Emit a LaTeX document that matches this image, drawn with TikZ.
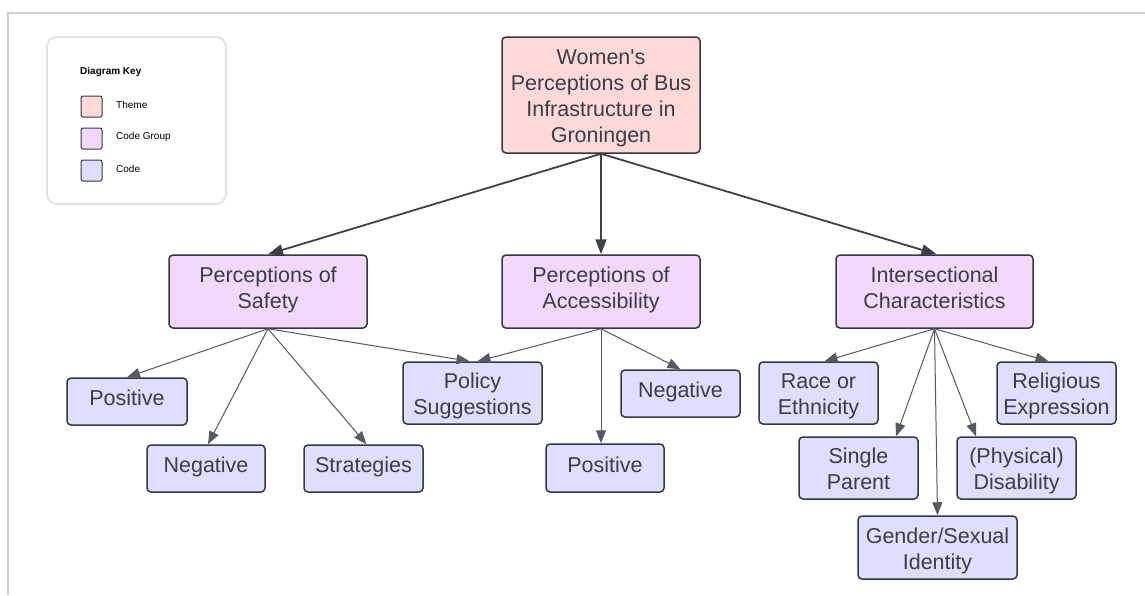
\documentclass[tikz,border=0pt]{standalone}
\usepackage{fontspec}
\setmainfont{Liberation Sans}[Ligatures=TeXOff]
\usetikzlibrary{arrows.meta}
\definecolor{txt}{RGB}{58,62,70}
\definecolor{bord}{RGB}{52,56,64}
\definecolor{themefill}{RGB}{255,216,216}
\definecolor{groupfill}{RGB}{242,216,252}
\definecolor{codefill}{RGB}{222,222,255}
\definecolor{framec}{RGB}{208,208,208}
\definecolor{keyborder}{RGB}{222,226,232}
\definecolor{edgetop}{RGB}{60,65,74}
\definecolor{edgelow}{RGB}{85,90,98}
% struts on first / last lines: centred text and slightly raised text
\newcommand\sTc{\rule{0pt}{22pt}}
\newcommand\sBc{\rule[-4.6pt]{0pt}{0pt}}
\newcommand\sTh{\rule{0pt}{16pt}}
\newcommand\sBh{\rule[-8pt]{0pt}{0pt}}
\begin{document}
\begin{tikzpicture}[x=1pt,y=-1pt,
 box/.style={rectangle, rounded corners=4pt, draw=bord, line width=1.5pt, text=txt, align=center, inner sep=0pt, font=\fontsize{21.5}{26}\selectfont},
 theme/.style={box, fill=themefill},
 group/.style={box, fill=groupfill},
 code/.style={box, fill=codefill},
 topedge/.style={draw=edgetop, line width=1.8pt, -{Triangle[length=15pt,width=11pt]}},
 lowedge/.style={draw=edgelow, line width=1pt, -{Triangle[length=13pt,width=10pt]}},
 swatch/.style={rectangle, rounded corners=2pt, draw=bord, line width=1pt, minimum width=21pt, minimum height=21pt, inner sep=0pt},
 keytext/.style={text=black, font=\fontsize{10}{12}\selectfont, anchor=west, inner sep=0pt},
]
\useasboundingbox (0,0) rectangle (1145,595);
\draw[framec, line width=2pt] (1145,13) -- (8,13) -- (8,595);

% key
\node[draw=keyborder, line width=1.8pt, rounded corners=10pt, fill=white, minimum width=179pt, minimum height=167pt, inner sep=0pt] (key) at (136.5,120.5) {};
\node[keytext, font=\bfseries\fontsize{10}{12}\selectfont] (keyhead) at (80,72) {Diagram Key};
\node[swatch, fill=themefill] (sw1) at (91.5,106.5) {};
\node[swatch, fill=groupfill] (sw2) at (91.5,138.5) {};
\node[swatch, fill=codefill] (sw3) at (91.5,170.5) {};
\node[keytext] (kl1) at (116,105) {Theme};
\node[keytext] (kl2) at (116,137) {Code Group};
\node[keytext] (kl3) at (116,169) {Code};

% nodes
\node[theme, minimum width=198pt, minimum height=116pt] (top) at (601,95) {\sTc Women's\\Perceptions of Bus\\Infrastructure in\\Groningen\sBc};
\node[group, minimum width=198pt, minimum height=73pt] (safety) at (268,291.5) {\sTh Perceptions of\\Safety\sBh};
\node[group, minimum width=198pt, minimum height=73pt] (access) at (601,291.5) {\sTh Perceptions of\\Accessibility\sBh};
\node[group, minimum width=197pt, minimum height=73pt] (inter) at (934.5,291.5) {\sTh Intersectional\\Characteristics\sBh};

\node[code, minimum width=120pt, minimum height=47pt] (spos) at (127,401.5) {\sTh Positive\sBh};
\node[code, minimum width=118pt, minimum height=47pt] (sneg) at (206,468.5) {\sTh Negative\sBh};
\node[code, minimum width=119pt, minimum height=47pt] (strat) at (363.5,468.5) {\sTh Strategies\sBh};
\node[code, minimum width=139pt, minimum height=62pt] (policy) at (472.5,393) {\sTc Policy\\Suggestions\sBc};
\node[code, minimum width=119pt, minimum height=47pt] (aneg) at (680.5,393.5) {\sTh Negative\sBh};
\node[code, minimum width=118pt, minimum height=48pt] (apos) at (605,468) {\sTh Positive\sBh};
\node[code, minimum width=119pt, minimum height=62pt] (race) at (818.5,393) {\sTc Race or\\Ethnicity\sBc};
\node[code, minimum width=119pt, minimum height=62pt] (relig) at (1056.5,393) {\sTc Religious\\Expression\sBc};
\node[code, minimum width=119pt, minimum height=62pt] (single) at (858.5,468) {\sTc Single\\Parent\sBc};
\node[code, minimum width=119pt, minimum height=62pt] (disab) at (1016.5,468) {\sTc (Physical)\\Disability\sBc};
\node[code, minimum width=159pt, minimum height=63pt] (gender) at (937.5,547.5) {\sTc Gender/Sexual\\Identity\sBc};

% edges
\draw[topedge] (top.south) -- (safety.north);
\draw[topedge] (top.south) -- (access.north);
\draw[topedge] (top.south) -- ([xshift=2pt]inter.north);

\draw[lowedge] (safety.south) -- (spos.north);
\draw[lowedge] (safety.south) -- ([xshift=2pt]sneg.north);
\draw[lowedge] (safety.south) -- ([xshift=3pt]strat.north);
\draw[lowedge] (safety.south) -- ([xshift=-3pt]policy.north);

\draw[lowedge] (access.south) -- ([xshift=5pt]policy.north);
\draw[lowedge] (access.south) -- (apos.north -| access.south);
\draw[lowedge] (access.south) -- (aneg.north);

\draw[lowedge] (inter.south) -- ([xshift=6pt]race.north);
\draw[lowedge] (inter.south) -- ([xshift=37.5pt]single.north);
\draw[lowedge] (inter.south) -- (gender.north);
\draw[lowedge] (inter.south) -- ([xshift=-40.5pt]disab.north);
\draw[lowedge] (inter.south) -- ([xshift=-8pt]relig.north);
\end{tikzpicture}
\end{document}
